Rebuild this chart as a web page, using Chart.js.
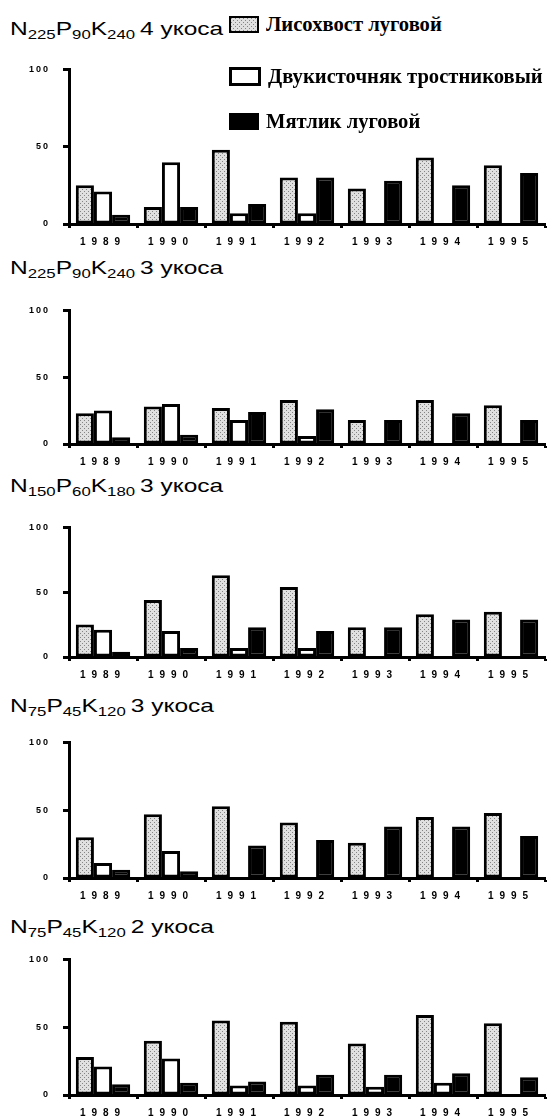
<!DOCTYPE html>
<html>
<head>
<meta charset="utf-8">
<script src="https://cdn.jsdelivr.net/npm/chart.js@4"></script>
<style>
  body { margin: 0; background: #fff; width: 547px; height: 1119px; overflow: hidden; position: relative; }
  canvas { position: absolute; left: 0; }
  .panel-title { position: absolute; left: 10px; font-family: "Liberation Sans", Arial, sans-serif;
    font-size: 19px; line-height: 22px; color: #000; white-space: nowrap;
    transform: scaleX(1.29); transform-origin: left center; }
  .panel-title sub { font-size: 13px; vertical-align: -4px; line-height: 0; }
  .leg-item { position: absolute; left: 229px; height: 22px; display: flex; align-items: center;
    font-family: "Liberation Serif", "Times New Roman", serif; font-weight: bold; font-size: 20px;
    color: #000; white-space: nowrap; z-index: 5; }
  .leg-box { width: 26px; height: 13px; border: 2px solid #000; margin-right: 7px; flex: none; }
  .leg-text { display: inline-block; transform: scaleX(1.03); transform-origin: left center; }
</style>
</head>
<body>
<script>
const years = ['1989', '1990', '1991', '1992', '1993', '1994', '1995'];
const seriesNames = ['Лисохвост луговой', 'Двукисточняк тростниковый', 'Мятлик луговой'];

// fertilizer doses and number of cuts for each panel
const nDoses = ['225', '225', '150', '75', '75'];
const pDoses = ['90', '90', '60', '45', '45'];
const kDoses = ['240', '240', '180', '120', '120'];
const cuts = ['4', '3', '3', '3', '2'];

const foxtail = [
  [25, 11, 48, 30, 23, 43, 38],
  [23, 28, 27, 33, 18, 33, 29],
  [25, 44, 63, 54, 23, 33, 35],
  [30, 47, 53, 41, 26, 45, 48],
  [28, 40, 55, 54, 38, 59, 53]
];
const canary = [
  [21, 40, 7, 7, 0, 0, 0],
  [25, 30, 18, 6, 0, 0, 0],
  [21, 20, 7, 7, 0, 0, 0],
  [11, 20, 0, 0, 0, 0, 0],
  [21, 27, 7, 7, 6, 9, 0]
];
const bluegrass = [
  [6, 11, 13, 30, 28, 25, 33],
  [5, 7, 24, 26, 18, 23, 18],
  [4, 7, 23, 20, 23, 29, 29],
  [6, 5, 24, 28, 38, 38, 31],
  [8, 9, 10, 15, 15, 16, 13]
];

const yTicks = [0, 50, 100];

// page layout (pixel rows of the 100 and 0 lines, title centres)
const topPx = [69, 310, 527, 742, 959];
const zeroPx = [228, 448, 661, 882, 1099];
const titleMid = [29, 268, 486, 706, 927];
const legendMid = [24, 76, 121];
const xAxisH = 26;

function makeStipple() {
  const c = document.createElement('canvas');
  c.width = 4; c.height = 4;
  const g = c.getContext('2d');
  g.fillStyle = '#e0e0e0'; g.fillRect(0, 0, 4, 4);
  g.fillStyle = '#858585';
  g.fillRect(0, 0, 1, 1); g.fillRect(2, 2, 1, 1);
  return c;
}
const stippleCanvas = makeStipple();
const stipple = stippleCanvas.getContext('2d').createPattern(stippleCanvas, 'repeat');

// legend
const swatchBg = [`url(${stippleCanvas.toDataURL()})`, '#fff', '#000'];
seriesNames.forEach((name, i) => {
  const item = document.createElement('div');
  item.className = 'leg-item';
  item.style.top = (legendMid[i] - 11) + 'px';
  const box = document.createElement('span');
  box.className = 'leg-box';
  box.style.background = swatchBg[i];
  if (i === 1) box.style.borderWidth = '3px';
  const txt = document.createElement('span');
  txt.className = 'leg-text';
  txt.textContent = name;
  item.appendChild(box);
  item.appendChild(txt);
  document.body.appendChild(item);
});

// letter spacing: narrow for y labels, wide for the year labels (drawn after bars)
const spacing = {
  id: 'spacing',
  beforeDraw(c) { c.ctx.letterSpacing = '2px'; },
  afterDatasetsDraw(c) { c.ctx.letterSpacing = '6px'; },
  afterDraw(c) { c.ctx.letterSpacing = '0px'; }
};

const tickFont = "'Liberation Sans', Arial, sans-serif";

for (let p = 0; p < 5; p++) {
  const t = document.createElement('div');
  t.className = 'panel-title';
  t.style.top = (titleMid[p] - 11) + 'px';
  t.innerHTML = 'N<sub>' + nDoses[p] + '</sub>P<sub>' + pDoses[p] + '</sub>K<sub>' + kDoses[p] +
    '</sub>&thinsp;' + cuts[p] + ' укоса';
  document.body.appendChild(t);

  const cv = document.createElement('canvas');
  const plotH = zeroPx[p] - topPx[p];
  cv.width = 547; cv.height = plotH + 40;
  cv.style.width = '547px'; cv.style.height = (plotH + 40) + 'px';
  document.body.appendChild(cv);

  const sets = [foxtail[p], canary[p], bluegrass[p]];
  const fills = [stipple, '#fff', '#000'];

  const chart = new Chart(cv, {
    type: 'bar',
    data: {
      labels: years,
      datasets: sets.map((vals, i) => ({
        label: seriesNames[i],
        data: vals,
        backgroundColor: fills[i],
        borderColor: '#000',
        borderWidth: 3,
        borderSkipped: false,
        barPercentage: 1,
        categoryPercentage: 0.8
      }))
    },
    options: {
      responsive: false,
      animation: false,
      events: [],
      layout: { padding: { top: 0, right: 2, left: 0, bottom: 0 } },
      plugins: { legend: { display: false }, tooltip: { enabled: false } },
      scales: {
        x: {
          grid: { offset: true, drawOnChartArea: false, tickLength: 4, tickWidth: 3, color: '#000' },
          border: { display: true, color: '#000', width: 3 },
          ticks: { font: { family: tickFont, size: 10, weight: 'bold' }, color: '#000', padding: 8,
            maxRotation: 0, autoSkip: false, z: 1 },
          afterFit(s) { s.height = xAxisH; }
        },
        y: {
          min: 0, max: 100,
          afterBuildTicks(s) { s.ticks = yTicks.map(v => ({ value: v })); },
          grid: { drawOnChartArea: false, tickLength: 6, tickWidth: 3, color: '#000' },
          border: { display: true, color: '#000', width: 3 },
          ticks: { font: { family: tickFont, size: 9, weight: 'bold' }, color: '#000', padding: 13 },
          afterFit(s) { s.width = 69; }
        }
      }
    },
    plugins: [spacing]
  });

  // line the plot area up with the page rows: canvas offset + height from the real chart area
  const off = chart.chartArea.top;
  const h = Math.round(off + plotH + xAxisH);
  cv.style.top = Math.round(topPx[p] - off) + 'px';
  chart.resize(547, h);
}
</script>
</body>
</html>
